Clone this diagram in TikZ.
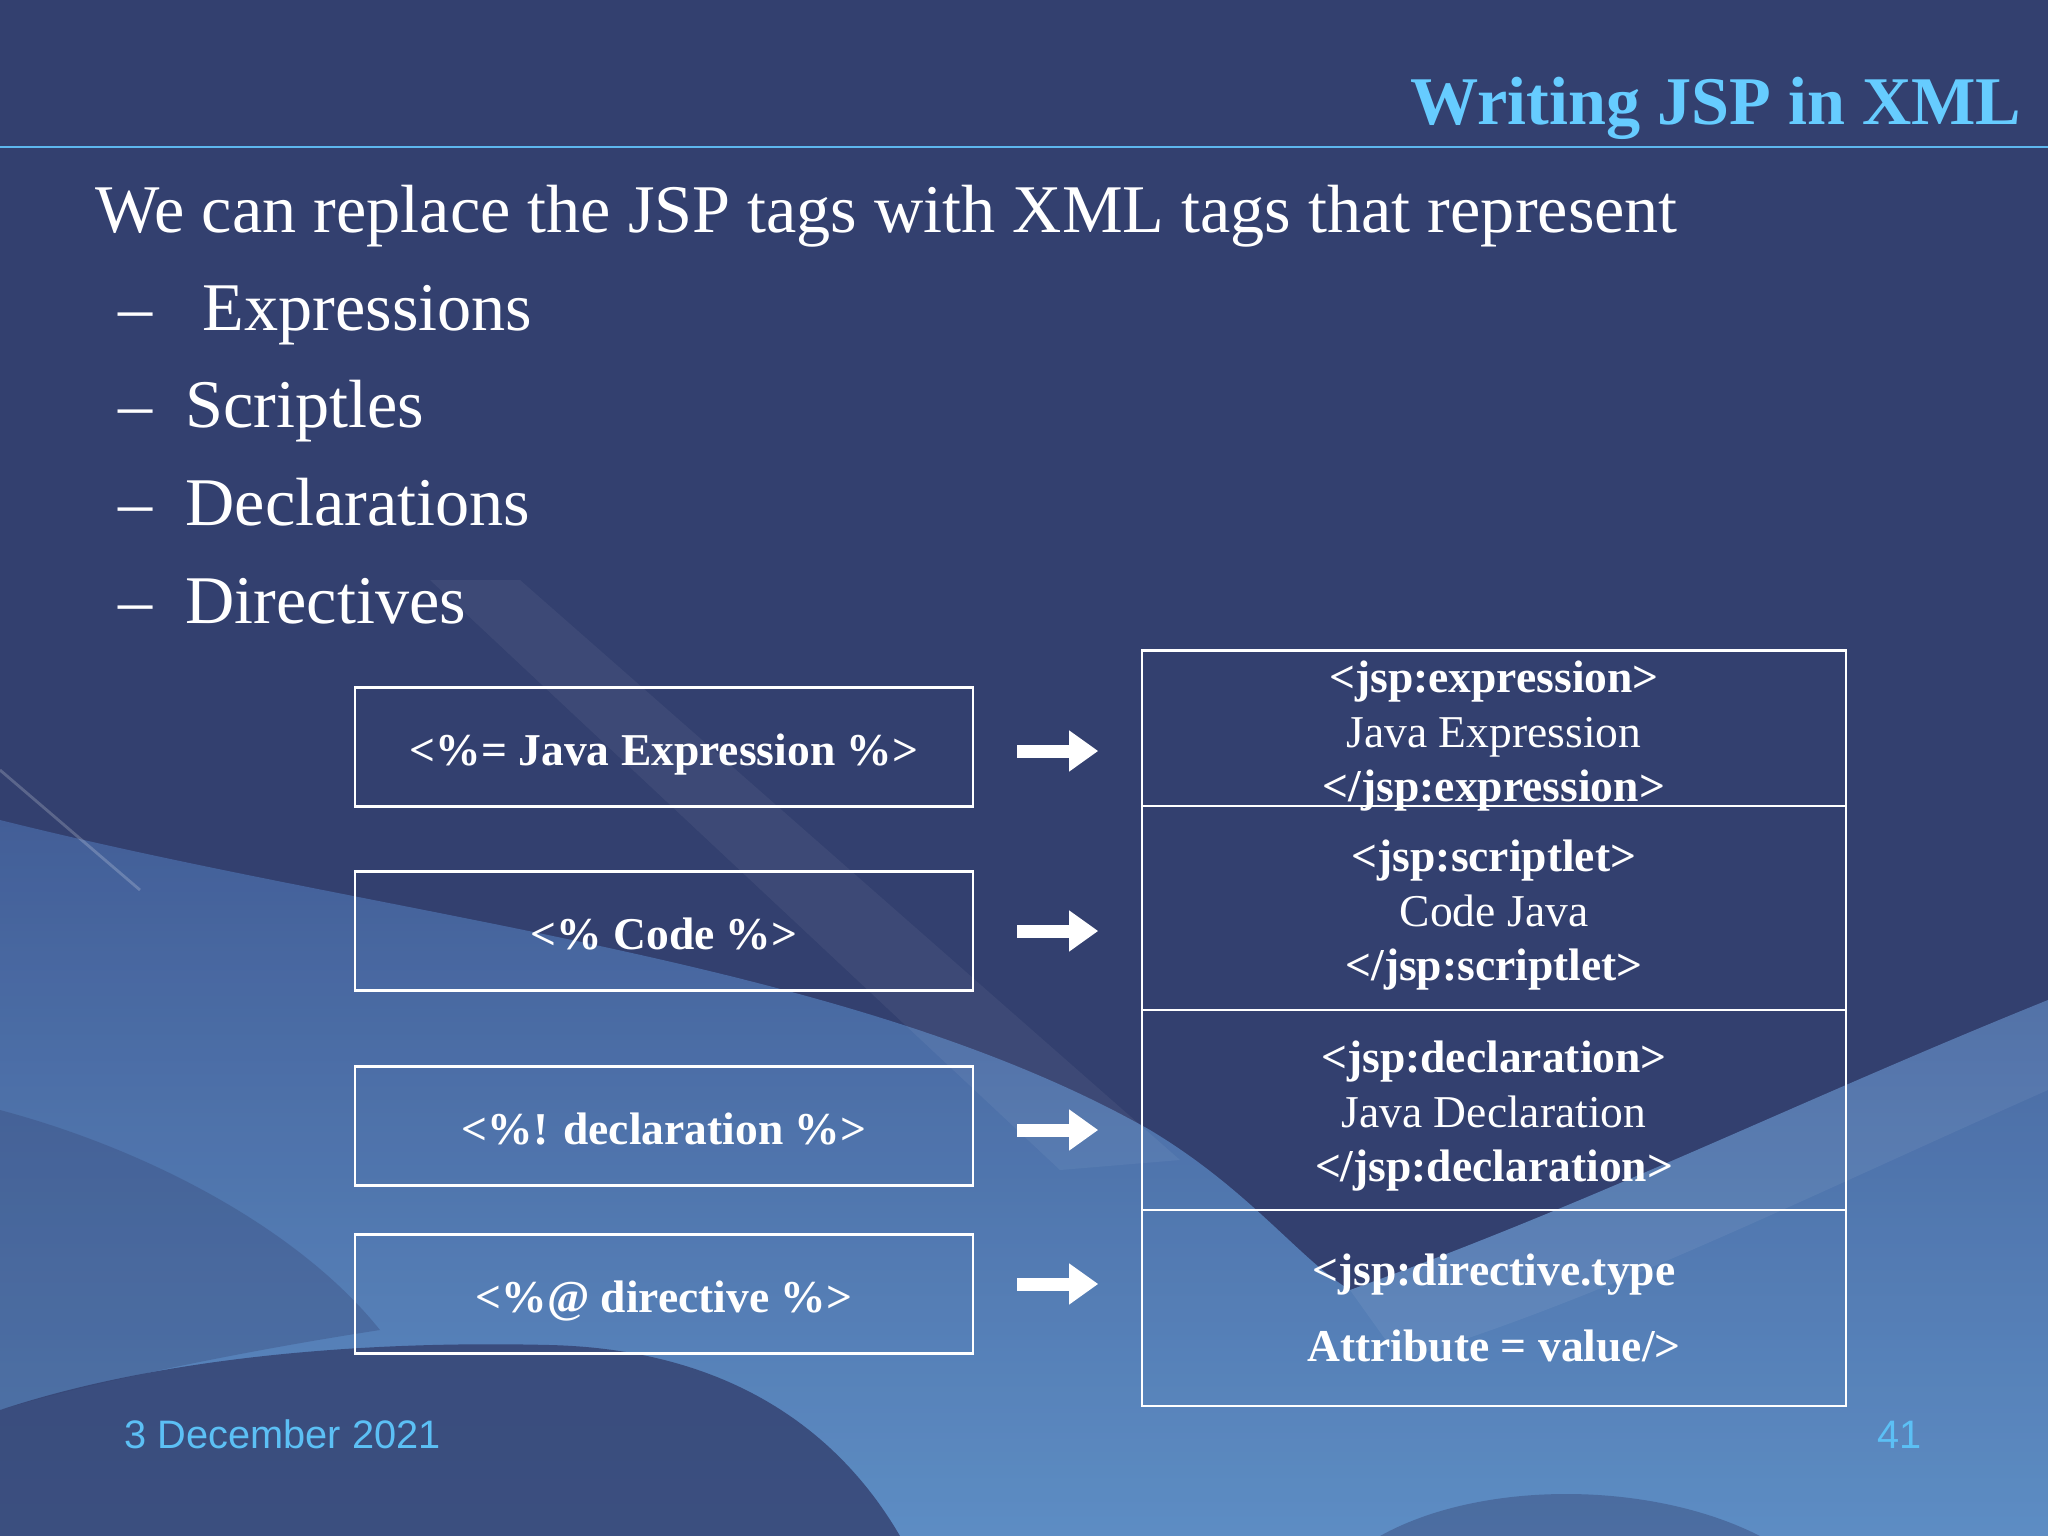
\documentclass[tikz,border=0pt]{standalone}
\usepackage{fontspec}
\setmainfont{Liberation Serif}
\setsansfont{Liberation Sans}
\usepackage{tikz}
\usetikzlibrary{arrows.meta}

\definecolor{slidebg}{HTML}{33406F}
\definecolor{titleblue}{HTML}{66CCFF}
\definecolor{rulecol}{HTML}{5DB7EE}
\definecolor{footblue}{HTML}{5CC0F5}
\definecolor{wavetop}{HTML}{46649F}
\definecolor{wavebot}{HTML}{659BD3}

\begin{document}
\begin{tikzpicture}[x=0.01cm, y=-0.01cm,
  bodytext/.style = {anchor=base west, inner sep=0, text=white, font=\fontsize{19.4}{23}\selectfont},
  lbox/.style = {draw=white, line width=0.6pt, minimum width=6.18cm, minimum height=1.19cm, inner sep=0,
    text height=10.6pt, text depth=0pt, text=white, font=\fontsize{12.95}{15.5}\selectfont\bfseries},
  rbox/.style = {draw=white, line width=0.6pt, minimum width=7.03cm, inner sep=0},
  rtext/.style = {inner sep=0, align=center, text=white, font=\fontsize{12.95}{15.5}\selectfont},
  fatarrow/.style = {white, line width=0.13cm, -{Triangle[length=0.29cm, width=0.39cm]},
    shorten <=0.43cm, shorten >=0.43cm},
  foot/.style = {inner sep=0, text=footblue, font=\sffamily\fontsize{11.3}{13}\selectfont}]
\fill[slidebg] (0,0) rectangle (2048,1536);
\useasboundingbox (0,0) rectangle (2048,1536);
\shade[top color=wavetop, bottom color=wavebot, opacity=0.85]
  (0,820) .. controls (400,920) and (850,960) .. (1150,1130)
  .. controls (1250,1190) and (1300,1260) .. (1350,1290)
  .. controls (1600,1200) and (1800,1100) .. (2048,1000)
  -- (2048,1536) -- (0,1536) -- cycle;
\fill[white, opacity=0.05] (430,580) -- (520,580) -- (1180,1160) -- (1060,1170) -- cycle;
\fill[white, opacity=0.06] (1350,1290) .. controls (1600,1200) and (1800,1100) .. (2048,1000)
  -- (2048,1090) .. controls (1800,1200) and (1600,1300) .. (1400,1360) -- cycle;
\fill[slidebg, opacity=0.3] (0,1110) .. controls (150,1150) and (300,1230) .. (380,1330)
  .. controls (250,1350) and (100,1380) .. (0,1410) -- cycle;
\fill[slidebg, opacity=0.8] (0,1410) .. controls (150,1360) and (350,1340) .. (550,1345)
  .. controls (750,1350) and (850,1450) .. (900,1536) -- (0,1536) -- cycle;
\fill[slidebg, opacity=0.4] (1380,1536) .. controls (1480,1480) and (1650,1480) .. (1760,1536) -- cycle;
\draw[white, opacity=0.2, line width=0.8pt] (0,770) -- (140,890);
\node[anchor=base east, inner sep=0, text=titleblue, font=\fontsize{19.4}{23}\selectfont\bfseries] (title) at (2022,124) {Writing JSP in XML};
\draw[rulecol, line width=0.8pt] (0,147) -- (2048,147);
\node[bodytext] (intro) at (95,232) {We can replace the JSP tags with XML tags that represent};
\node[bodytext] (d1) at (118,330) {–};
\node[bodytext] (i1) at (202,330) {Expressions};
\node[bodytext] (d2) at (118,427) {–};
\node[bodytext] (i2) at (185,427) {Scriptles};
\node[bodytext] (d3) at (118,525) {–};
\node[bodytext] (i3) at (185,525) {Declarations};
\node[bodytext] (d4) at (118,623) {–};
\node[bodytext] (i4) at (185,623) {Directives};
\node[lbox] (l1) at (664,747) {<\%= Java Expression \%>};
\node[lbox] (l2) at (664,931) {<\% Code \%>};
\node[lbox] (l3) at (664,1126) {<\%! declaration \%>};
\node[lbox] (l4) at (664,1294) {<\%@ directive \%>};
\node[rbox, minimum height=1.55cm] (r1) at (1494,728) {};
\node[rbox, minimum height=2.04cm] (r2) at (1494,908) {};
\node[rbox, minimum height=2.0cm] (r3) at (1494,1110) {};
\node[rbox, minimum height=1.96cm] (r4) at (1494,1308) {};
\node[rtext] (t1) at ([yshift=-0.085cm]r1.center) {\textbf{<jsp:expression>}\\ Java Expression\\ \textbf{</jsp:expression>}};
\node[rtext] (t2) at ([yshift=-0.075cm]r2.center) {\textbf{<jsp:scriptlet>}\\ Code Java\\ \textbf{</jsp:scriptlet>}};
\node[rtext] (t3) at ([yshift=-0.065cm]r3.center) {\textbf{<jsp:declaration>}\\ Java Declaration\\ \textbf{</jsp:declaration>}};
\node[rtext] (t4) at (r4.center) {\textbf{<jsp:directive.type}\\[6pt] \textbf{Attribute = value/>}};
\draw[fatarrow] ([yshift=-0.04cm]l1.east) -- ([yshift=-0.04cm]l1.east -| r1.west);
\draw[fatarrow] (l2.east) -- (l2.east -| r2.west);
\draw[fatarrow] ([yshift=-0.04cm]l3.east) -- ([yshift=-0.04cm]l3.east -| r3.west);
\draw[fatarrow] ([yshift=0.1cm]l4.east) -- ([yshift=0.1cm]l4.east -| r4.west);
\node[foot, anchor=base west] (date) at (124,1448) {3 December 2021};
\node[foot, anchor=base east] (page) at (1922,1448) {41};
\end{tikzpicture}
\end{document}
